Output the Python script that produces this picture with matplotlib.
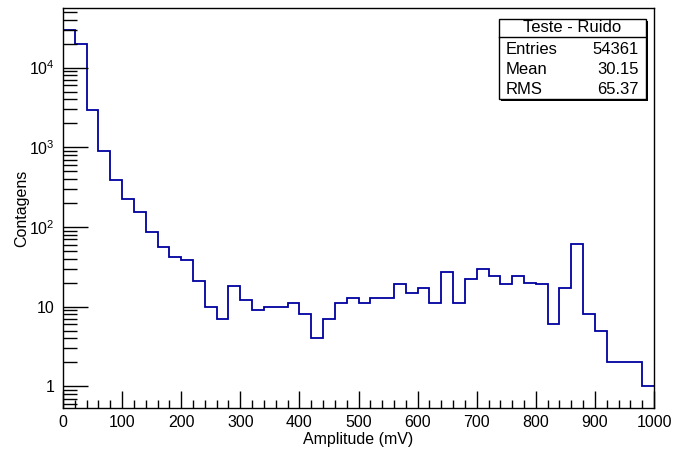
import numpy as np
import matplotlib
matplotlib.use("Agg")
import matplotlib.pyplot as plt
from matplotlib.patches import Rectangle
from matplotlib.ticker import FixedLocator, FixedFormatter, NullFormatter, MultipleLocator

plt.rcParams['font.family'] = ['Liberation Sans', 'DejaVu Sans']
plt.rcParams['mathtext.fontset'] = 'custom'
plt.rcParams['mathtext.rm'] = 'Liberation Sans'
plt.rcParams['mathtext.it'] = 'Liberation Sans:italic'

# histogram: 50 bins of 20 mV from 0 to 1000
bin_edges = np.arange(0, 1001, 20)
counts = [29300, 19600, 2910, 904, 391, 225, 152, 87, 56, 42,
          39, 21, 10, 7, 18, 12, 9, 10, 10, 11,
          8, 4, 7, 11, 13, 11, 13, 13, 19, 15,
          17, 11, 27, 11, 22, 30, 24, 19, 24, 20,
          19, 6, 17, 61, 8, 5, 2, 2, 2, 1]

title = "Teste - Ruido"
stat_names = ["Entries", "Mean", "RMS"]
stat_values = ["54361", "30.15", "65.37"]

y_ticks = [1, 10, 100, 1000, 10000]
y_tick_labels = ["1", "10", "$10^2$", "$10^3$", "$10^4$"]

fig = plt.figure(figsize=(6.73, 4.5), dpi=100)
ax = fig.add_axes([0.0936, 0.0927, 0.8782, 0.8889])

ax.stairs(counts, bin_edges, baseline=None, color='#0000a0', linewidth=1.3)

ax.set_yscale('log')
ax.set_xlim(0, 1000)
ax.set_ylim(0.53, 5.56e4)

ax.yaxis.set_major_locator(FixedLocator(y_ticks))
ax.yaxis.set_major_formatter(FixedFormatter(y_tick_labels))
ax.yaxis.set_minor_formatter(NullFormatter())
ax.xaxis.set_major_locator(MultipleLocator(100))
ax.xaxis.set_minor_locator(MultipleLocator(20))

ax.tick_params(axis='both', which='both', direction='in', top=False, right=False,
               labelsize=11.5, width=1, color='black')
ax.tick_params(axis='y', which='major', length=18, pad=6)
ax.tick_params(axis='y', which='minor', length=10)
ax.tick_params(axis='x', which='major', length=12, pad=5)
ax.tick_params(axis='x', which='minor', length=6)
for s in ax.spines.values():
    s.set_linewidth(1)

ax.set_xlabel("Amplitude (mV)", fontsize=11.5, labelpad=1)
ax.set_ylabel("Contagens", fontsize=11.5)
ax.yaxis.set_label_coords(-0.0575, 0.5)

# stats box (figure pixel coords -> fraction)
W, H = 673.0, 450.0
bx0, bx1, by0, by1 = 499 / W, 646 / W, 1 - 99 / H, 1 - 19 / H
sep = 1 - 37 / H
fig.patches.append(Rectangle((bx0 + 2 / W, by0 - 2 / H), bx1 - bx0, by1 - by0,
                             transform=fig.transFigure, facecolor='black',
                             edgecolor='none', zorder=5))
fig.patches.append(Rectangle((bx0, by0), bx1 - bx0, by1 - by0,
                             transform=fig.transFigure, facecolor='white',
                             edgecolor='black', linewidth=1, zorder=6))
fig.add_artist(plt.Line2D([bx0, bx1], [sep, sep], transform=fig.transFigure,
                          color='black', linewidth=1, zorder=7))
fig.text((bx0 + bx1) / 2, 1 - 27 / H, title, ha='center', va='center',
         fontsize=12, zorder=8)
for i, (n, v) in enumerate(zip(stat_names, stat_values)):
    yy = 1 - (49.5 + 20 * i) / H
    fig.text(506 / W, yy, n, ha='left', va='center', fontsize=12, zorder=8)
    fig.text(639 / W, yy, v, ha='right', va='center', fontsize=12, zorder=8)

fig.savefig("out.png", dpi=100)
